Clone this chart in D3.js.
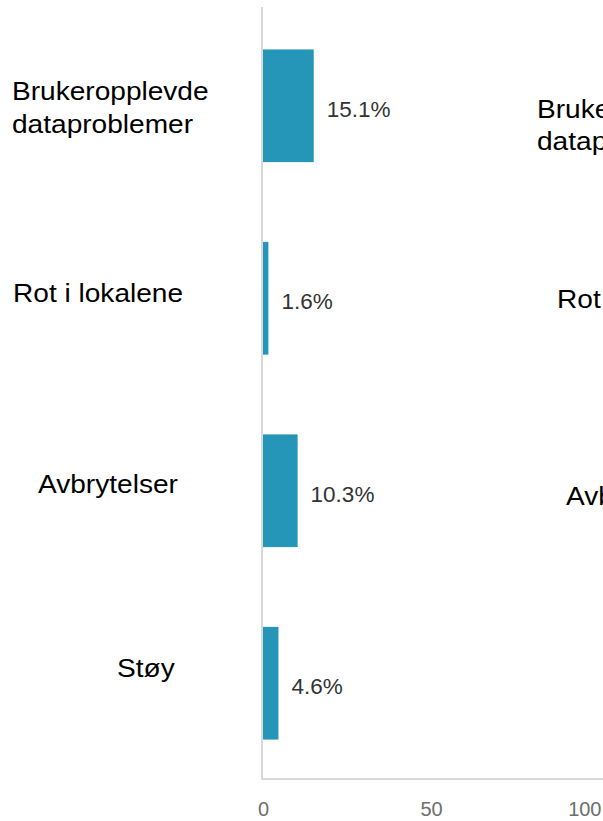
<!DOCTYPE html>
<html>
<head>
<meta charset="utf-8">
<script src="https://cdn.jsdelivr.net/npm/d3@7"></script>
<style>
  html, body { margin: 0; padding: 0; background: #fff; }
  svg { display: block; }
</style>
</head>
<body>
<script>
// ---- data ----
const categories = ["Brukeropplevde dataproblemer", "Rot i lokalene", "Avbrytelser", "Støy"];
const categoryLines = [["Brukeropplevde", "dataproblemer"], ["Rot i lokalene"], ["Avbrytelser"], ["Støy"]];
const values = [15.1, 1.6, 10.3, 4.6];
const valueLabels = ["15.1%", "1.6%", "10.3%", "4.6%"];
const tickValues = [0, 50, 100];

// ---- layout (not data) ----
const W = 603, H = 821;
const plot = { left: 263, right: 599, top: 8, bottom: 780 };
const labelX = [12, 13, 38, 117];          // left edge of category labels
const labelBaseline = [100, 302, 493, 677]; // baseline of first line
const lineGap = 33;
const labelScaleX = 1.08;
// second (clipped) chart to the right
const label2X = [537, 557, 566, 640];
const label2Baseline = [118, 308, 505, 690];

const svg = d3.select("body").append("svg").attr("width", W).attr("height", H);

const x = d3.scaleLinear().domain([0, 100]).range([plot.left, plot.right]);
const y = d3.scaleBand().domain(categories).range([plot.top + 1, plot.bottom]).paddingInner(0.4145).paddingOuter(0.21);

// axes lines
svg.append("line").attr("x1", plot.left - 1).attr("x2", plot.left - 1)
  .attr("y1", plot.top - 1).attr("y2", plot.bottom)
  .attr("stroke", "#d9d9d9").attr("stroke-width", 2);
svg.append("line").attr("x1", plot.left - 1).attr("x2", W)
  .attr("y1", plot.bottom - 1).attr("y2", plot.bottom - 1)
  .attr("stroke", "#d9d9d9").attr("stroke-width", 2);

// x tick labels
const xAxis = d3.axisBottom(x).tickValues(tickValues).tickSize(0).tickPadding(0);
const gx = svg.append("g").attr("transform", `translate(0,${plot.bottom + 22})`).call(xAxis);
gx.select(".domain").remove();
gx.selectAll("text").attr("font-family", "Liberation Sans, Arial, sans-serif")
  .attr("font-size", 20).attr("fill", "#6e6e6e");
// keep the last tick label inside the frame (as the original chart does)
gx.selectAll(".tick").each(function(d) {
  const t = d3.select(this).select("text");
  const bb = this.getBBox();
  const right = x(d) + bb.x + bb.width;
  if (right > W - 1) t.attr("text-anchor", "end").attr("x", (W - 2) - x(d));
});

// bars
svg.selectAll("rect.bar").data(values).join("rect").attr("class", "bar")
  .attr("x", x(0))
  .attr("y", (d, i) => y(categories[i]))
  .attr("width", d => x(d) - x(0))
  .attr("height", y.bandwidth())
  .attr("fill", "#2596b8");

// value labels
svg.selectAll("text.val").data(values).join("text").attr("class", "val")
  .attr("x", d => x(d) + 13)
  .attr("y", (d, i) => y(categories[i]) + y.bandwidth() / 2 + 11)
  .attr("font-family", "Liberation Sans, Arial, sans-serif")
  .attr("font-size", 22.5).attr("fill", "#333")
  .text((d, i) => valueLabels[i]);

function drawCategoryLabels(cls, xs, bases, gap) {
  const t = svg.selectAll("text." + cls).data(categoryLines).join("text").attr("class", cls)
    .attr("transform", (d, i) => `translate(${xs[i]},${bases[i]}) scale(${labelScaleX},1)`)
    .attr("font-family", "Liberation Sans, Arial, sans-serif")
    .attr("font-size", 26).attr("fill", "#000");
  t.each(function(lines) {
    d3.select(this).selectAll("tspan").data(lines).join("tspan")
      .attr("x", 0).attr("y", (l, j) => j * gap).text(l => l);
  });
}
// category labels (left chart)
drawCategoryLabels("cat", labelX, labelBaseline, lineGap);
// category labels of the neighbouring chart (clipped by the frame)
drawCategoryLabels("cat2", label2X, label2Baseline, lineGap - 1);
</script>
</body>
</html>
